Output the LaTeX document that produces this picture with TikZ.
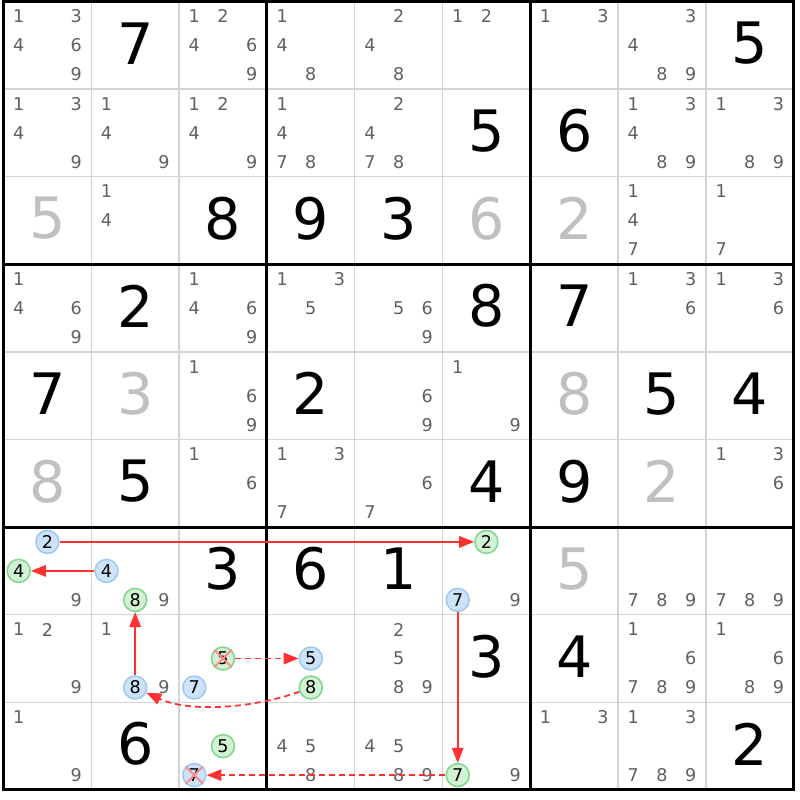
\documentclass[tikz,border=0pt]{standalone}
\usepackage{fontspec}
\setmainfont{DejaVu Sans}
\usetikzlibrary{arrows.meta}

\definecolor{candgray}{HTML}{606060}
\definecolor{solvedgray}{HTML}{C0C0C0}
\definecolor{gridgray}{HTML}{D4D4D4}
\definecolor{blueback}{HTML}{CDE3FA}
\definecolor{blueedge}{HTML}{9DC8F2}
\definecolor{greenback}{HTML}{D2F2D4}
\definecolor{greenedge}{HTML}{80D58C}
\definecolor{linkred}{HTML}{FF3030}
\definecolor{crossred}{HTML}{FF8A8A}

% position of candidate #3 in row #1, column #2
\newcommand{\candpos}[3]{%
  \pgfmathsetmacro{\px}{3.5+87.8*(#2+0.5)+28.7*(mod(#3-1,3)-1)}%
  \pgfmathsetmacro{\py}{1.5+87.6*(#1+0.5)+29*(floor((#3-0.5)/3)-1)}}

\begin{document}
\begin{tikzpicture}[x=0.02cm, y=-0.02cm,
    given/.style={font=\fontsize{32.5}{34}\selectfont, text=black, inner sep=0pt},
    solved/.style={given, text=solvedgray},
    cand/.style={font=\fontsize{10}{12}\selectfont, text=candgray, inner sep=0pt},
    bluecand/.style={cand, text=black, circle, draw=blueedge, fill=blueback, line width=0.85pt, minimum size=0.46cm},
    greencand/.style={bluecand, draw=greenedge, fill=greenback},
    strong/.style={draw=linkred, line width=1pt, -{Triangle[length=8.5pt,width=6.5pt]}},
    weak/.style={strong, dash pattern=on 3.4pt off 2.3pt},
    thingrid/.style={gridgray, line width=0.85pt},
    thickgrid/.style={black, line width=1.7pt},
    xmark/.style={crossred, line width=1.1pt}]
        % basics
        \fill[white] (0,0) rectangle (800,800);
        \useasboundingbox (0,0) rectangle (800,800);

        % cell lines
        \foreach \i in {1,2,4,5,7,8} {
            \draw[thingrid] ({3.5+87.8*\i},1.5) -- ({3.5+87.8*\i},789.9);
            \draw[thingrid] (3.5,{1.5+87.6*\i}) -- (793.7,{1.5+87.6*\i});
        }
        % box lines
        \foreach \i in {3,6} {
            \draw[thickgrid] ({3.5+87.8*\i},1.5) -- ({3.5+87.8*\i},789.9);
            \draw[thickgrid] (3.5,{1.5+87.6*\i}) -- (793.7,{1.5+87.6*\i});
        }
        \draw[thickgrid] (3.5,1.5) rectangle (793.7,789.9);

        % givens
        \foreach \r/\c/\d in {0/1/7, 0/8/5, 1/5/5, 1/6/6, 2/2/8, 2/3/9, 2/4/3, 3/1/2, 3/5/8, 3/6/7,
                              4/0/7, 4/3/2, 4/7/5, 4/8/4, 5/1/5, 5/5/4, 5/6/9, 6/2/3, 6/3/6, 6/4/1,
                              7/5/3, 7/6/4, 8/1/6, 8/8/2}
            \node[given] (g\r\c) at ({3.5+87.8*(\c+0.5)},{1.5+87.6*(\r+0.5)-2}) {\d};
        % solved
        \foreach \r/\c/\d in {2/0/5, 2/5/6, 2/6/2, 4/1/3, 4/6/8, 5/0/8, 5/7/2, 6/6/5}
            \node[solved] (s\r\c) at ({3.5+87.8*(\c+0.5)},{1.5+87.6*(\r+0.5)-2}) {\d};

        % pencil marks
        \foreach \r/\c/\ds in {0/0/{1,3,4,6,9}, 0/2/{1,2,4,6,9}, 0/3/{1,4,8}, 0/4/{2,4,8}, 0/5/{1,2},
                               0/6/{1,3}, 0/7/{3,4,8,9}, 1/0/{1,3,4,9}, 1/1/{1,4,9}, 1/2/{1,2,4,9},
                               1/3/{1,4,7,8}, 1/4/{2,4,7,8}, 1/7/{1,3,4,8,9}, 1/8/{1,3,8,9},
                               2/1/{1,4}, 2/7/{1,4,7}, 2/8/{1,7}, 3/0/{1,4,6,9}, 3/2/{1,4,6,9},
                               3/3/{1,3,5}, 3/4/{5,6,9}, 3/7/{1,3,6}, 3/8/{1,3,6}, 4/2/{1,6,9},
                               4/4/{6,9}, 4/5/{1,9}, 5/2/{1,6}, 5/3/{1,3,7}, 5/4/{6,7}, 5/8/{1,3,6},
                               6/0/{9}, 6/1/{9}, 6/5/{9}, 6/7/{7,8,9}, 6/8/{7,8,9}, 7/0/{1,2,9},
                               7/1/{1,9}, 7/4/{2,5,8,9}, 7/7/{1,6,7,8,9}, 7/8/{1,6,8,9}, 8/0/{1,9},
                               8/3/{4,5,8}, 8/4/{4,5,8,9}, 8/5/{9}, 8/6/{1,3}, 8/7/{1,3,7,8,9}}
            \foreach \d in \ds {
                \candpos{\r}{\c}{\d}
                \node[cand] (c\r\c\d) at (\px,\py) {\d};
            }

        % chain candidates
        \foreach \r/\c/\d in {6/0/2, 6/1/4, 7/1/8, 6/5/7, 7/2/7, 7/3/5, 8/2/7} {
            \candpos{\r}{\c}{\d}
            \node[bluecand] (r\r c\c d\d) at (\px,\py) {\d};
        }
        \foreach \r/\c/\d in {6/0/4, 6/1/8, 6/5/2, 7/2/5, 7/3/8, 8/2/5, 8/5/7} {
            \candpos{\r}{\c}{\d}
            \node[greencand] (r\r c\c d\d) at (\px,\py) {\d};
        }

        % strong links
        \draw[strong] (r6c0d2) -- (r6c5d2);
        \draw[strong] (r6c1d4) -- (r6c0d4);
        \draw[strong] (r7c1d8) -- (r6c1d8);
        \draw[strong] (r6c5d7) -- (r8c5d7);
        % weak links
        \draw[weak] (r7c2d5) -- (r7c3d5);
        \draw[weak] (r7c3d8) to[out=-160,in=-25,looseness=0.8] (r7c1d8);
        \draw[weak] (r8c5d7) -- (r8c2d7);

        % eliminated
        \draw[xmark] (r7c2d5.north west) -- (r7c2d5.south east) (r7c2d5.north east) -- (r7c2d5.south west);
        \draw[xmark] (r8c2d7.north west) -- (r8c2d7.south east) (r8c2d7.north east) -- (r8c2d7.south west);
    \end{tikzpicture}
\end{document}
